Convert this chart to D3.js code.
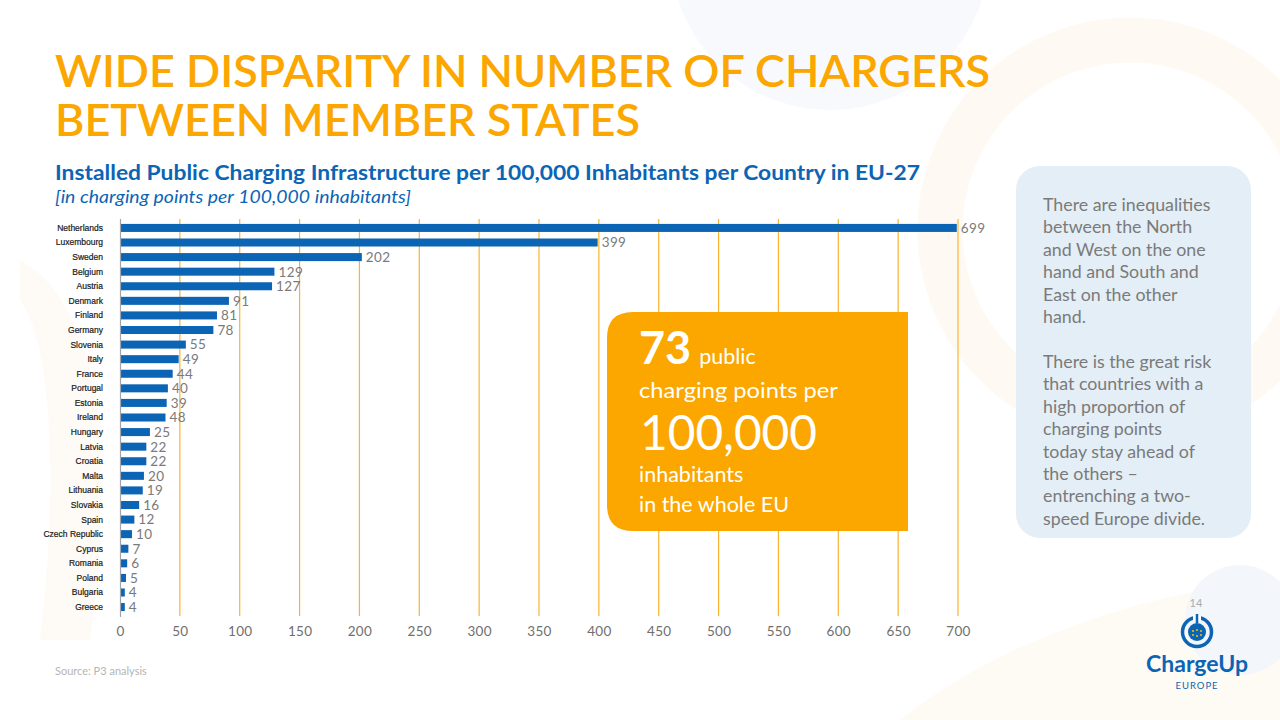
<!DOCTYPE html>
<html><head><meta charset="utf-8">
<script src="https://cdn.jsdelivr.net/npm/d3@7"></script>
<style>html,body{margin:0;padding:0;background:#fff;overflow:hidden}svg{display:block}</style>
</head><body>
<svg id="c" width="1280" height="720"></svg>
<script>
const countries = ["Netherlands","Luxembourg","Sweden","Belgium","Austria","Denmark","Finland","Germany","Slovenia","Italy","France","Portugal","Estonia","Ireland","Hungary","Latvia","Croatia","Malta","Lithuania","Slovakia","Spain","Czech Republic","Cyprus","Romania","Poland","Bulgaria","Greece"];
const values = [699,399,202,129,127,91,81,78,55,49,44,40,39,38,25,22,22,20,19,16,12,10,7,6,5,4,4];
const valueLabels = ["699","399","202","129","127","91","81","78","55","49","44","40","39","48","25","22","22","20","19","16","12","10","7","6","5","4","4"];
const xTicks = [0,50,100,150,200,250,300,350,400,450,500,550,600,650,700];
const panelLines1 = ["There are inequalities","between the North","and West on the one","hand and South and","East on the other","hand."];
const panelLines2 = ["There is the great risk","that countries with a","high proportion of","charging points","today stay ahead of","the others –","entrenching a two-","speed Europe divide."];

const svg = d3.select("#c");
const ORANGE = "#fca600", BLUE = "#0b64b4";

// faint decorative background
const deco = svg.append("g");
deco.append("circle").attr("cx",1130).attr("cy",230).attr("r",190).attr("fill","none").attr("stroke","#fefaf3").attr("stroke-width",45);
deco.append("circle").attr("cx",830).attr("cy",-50).attr("r",160).attr("fill","#f7f9fc");
deco.append("path").attr("d","M900,720 C1000,640 1150,590 1280,580 L1280,720 Z").attr("fill","#fefaf4");
deco.append("circle").attr("cx",1240).attr("cy",620).attr("r",55).attr("fill","#f3f6fa");
deco.append("path").attr("d","M20,260 C90,300 120,420 90,640 L40,640 C60,470 50,340 20,300 Z").attr("fill","#fefbf6");

// titles
svg.append("text").attr("x",55).attr("y",87).attr("fill",ORANGE).attr("font-family","Lato, sans-serif").attr("font-size",44).attr("font-weight",600)
  .attr("textLength",935).attr("lengthAdjust","spacingAndGlyphs").text("WIDE DISPARITY IN NUMBER OF CHARGERS");
svg.append("text").attr("x",55).attr("y",136).attr("fill",ORANGE).attr("font-family","Lato, sans-serif").attr("font-size",44).attr("font-weight",600)
  .attr("textLength",585).attr("lengthAdjust","spacingAndGlyphs").text("BETWEEN MEMBER STATES");
svg.append("text").attr("x",55).attr("y",180).attr("fill",BLUE).attr("font-family","Lato, sans-serif").attr("font-size",21).attr("font-weight",700)
  .attr("textLength",865).attr("lengthAdjust","spacingAndGlyphs").text("Installed Public Charging Infrastructure per 100,000 Inhabitants per Country in EU-27");
svg.append("text").attr("x",55).attr("y",203).attr("fill",BLUE).attr("font-family","Lato, sans-serif").attr("font-size",16.5).attr("font-style","italic")
  .attr("textLength",356).attr("lengthAdjust","spacingAndGlyphs").text("[in charging points per 100,000 inhabitants]");

// chart
const x = d3.scaleLinear().domain([0,700]).range([120,958]);
const y = d3.scaleBand().domain(countries).range([221,614]).paddingInner(0.45).paddingOuter(0.2);
const g = svg.append("g");

g.selectAll("line.grid").data(xTicks.slice(1)).join("line").attr("class","grid")
  .attr("x1",d=>x(d)).attr("x2",d=>x(d)).attr("y1",219).attr("y2",616)
  .attr("stroke","#f8b431").attr("stroke-width",1.2);

g.selectAll("rect.bar").data(countries).join("rect").attr("class","bar")
  .attr("x",x(0)).attr("y",(d)=>y(d)).attr("height",y.bandwidth())
  .attr("width",(d,i)=>x(values[i])-x(0)).attr("fill",BLUE);

g.append("line").attr("x1",120.5).attr("x2",120.5).attr("y1",219).attr("y2",617).attr("stroke","#a0a4ac").attr("stroke-width",1.2);

g.selectAll("text.cat").data(countries).join("text").attr("class","cat")
  .attr("x",103).attr("y",d=>y(d)+y.bandwidth()/2).attr("dy","0.35em").attr("text-anchor","end")
  .attr("font-family","Liberation Sans, Arial, sans-serif").attr("font-size",8.5).attr("fill","#1a1a1a").attr("stroke","#1a1a1a").attr("stroke-width",0.2)
  .text(d=>d);

g.selectAll("text.val").data(countries).join("text").attr("class","val")
  .attr("x",(d,i)=>x(values[i])+4).attr("y",d=>y(d)+y.bandwidth()/2).attr("dy","0.36em")
  .attr("font-family","Lato, sans-serif").attr("font-size",13.5).attr("letter-spacing",0.4).attr("fill","#7a7a7a")
  .text((d,i)=>valueLabels[i]);

const xAxis = d3.axisBottom(x).tickValues(xTicks).tickSize(0).tickPadding(0);
const ax = svg.append("g").attr("transform","translate(0,626)").call(xAxis);
ax.select(".domain").remove();
ax.selectAll("text").attr("font-family","Lato, sans-serif").attr("font-size",13.5).attr("letter-spacing",0.3).attr("fill","#6f6f6f").attr("dy","0.71em");

// orange callout
const bx=607, by=312, bw=301, bh=219, r=26;
svg.append("path").attr("d",`M${bx+r},${by} L${bx+bw},${by} L${bx+bw},${by+bh} L${bx+r},${by+bh} Q${bx},${by+bh} ${bx},${by+bh-r} L${bx},${by+r} Q${bx},${by} ${bx+r},${by} Z`).attr("fill",ORANGE);
const ct = svg.append("g").attr("fill","#fff").attr("font-family","Lato, sans-serif");
const t1 = ct.append("text").attr("x",639).attr("y",364);
t1.append("tspan").attr("font-size",45).attr("font-weight",700).text("73");
t1.append("tspan").attr("dx",8).attr("font-size",21.5).text("public");
ct.append("text").attr("x",639).attr("y",398).attr("font-size",21.5).attr("textLength",199).attr("lengthAdjust","spacingAndGlyphs").text("charging points per");
ct.append("text").attr("x",640).attr("y",450).attr("font-size",48).attr("textLength",177).attr("lengthAdjust","spacingAndGlyphs").text("100,000");
ct.append("text").attr("x",639).attr("y",482).attr("font-size",21.5).text("inhabitants");
ct.append("text").attr("x",639).attr("y",512).attr("font-size",21.5).text("in the whole EU");

// right panel
svg.append("rect").attr("x",1016).attr("y",166).attr("width",235).attr("height",372).attr("rx",24).attr("fill","#e4eef6");
const pt = svg.append("g").attr("font-family","Lato, sans-serif").attr("font-size",17.8).attr("fill","#7a7a7a");
pt.selectAll("text.p1").data(panelLines1).join("text").attr("class","p1").attr("x",1043).attr("y",(d,i)=>211+i*22.4).text(d=>d);
pt.selectAll("text.p2").data(panelLines2).join("text").attr("class","p2").attr("x",1043).attr("y",(d,i)=>368+i*22.4).text(d=>d);

// page number & logo
svg.append("text").attr("x",1196).attr("y",607).attr("text-anchor","middle").attr("font-family","Lato, sans-serif").attr("font-size",11).attr("fill","#aaaaaa").text("14");
const logo = svg.append("g").attr("transform","translate(1197,632)");
logo.append("circle").attr("r",14.5).attr("fill","none").attr("stroke",BLUE).attr("stroke-width",3.5);
logo.append("circle").attr("r",9).attr("fill",BLUE);
logo.append("rect").attr("x",-4).attr("y",-17).attr("width",8).attr("height",6).attr("fill","#fff");
logo.append("line").attr("x1",0).attr("x2",0).attr("y1",-18).attr("y2",-9).attr("stroke",BLUE).attr("stroke-width",2.5);
[[-4,-1],[0,-2],[4,-1],[-4,3],[0,4],[4,3]].forEach(p=>logo.append("circle").attr("cx",p[0]).attr("cy",p[1]).attr("r",1).attr("fill","#f5c400"));
svg.append("text").attr("x",1197).attr("y",672).attr("text-anchor","middle").attr("font-family","Lato, sans-serif").attr("font-size",23).attr("font-weight",700).attr("fill",BLUE).text("ChargeUp");
svg.append("text").attr("x",1197).attr("y",689).attr("text-anchor","middle").attr("font-family","Lato, sans-serif").attr("font-size",9.5).attr("letter-spacing",1).attr("fill",BLUE).text("EUROPE");

// source
svg.append("text").attr("x",55).attr("y",675).attr("font-family","Lato, sans-serif").attr("font-size",11).attr("fill","#b5b5b5").text("Source: P3 analysis");
</script>
</body></html>
